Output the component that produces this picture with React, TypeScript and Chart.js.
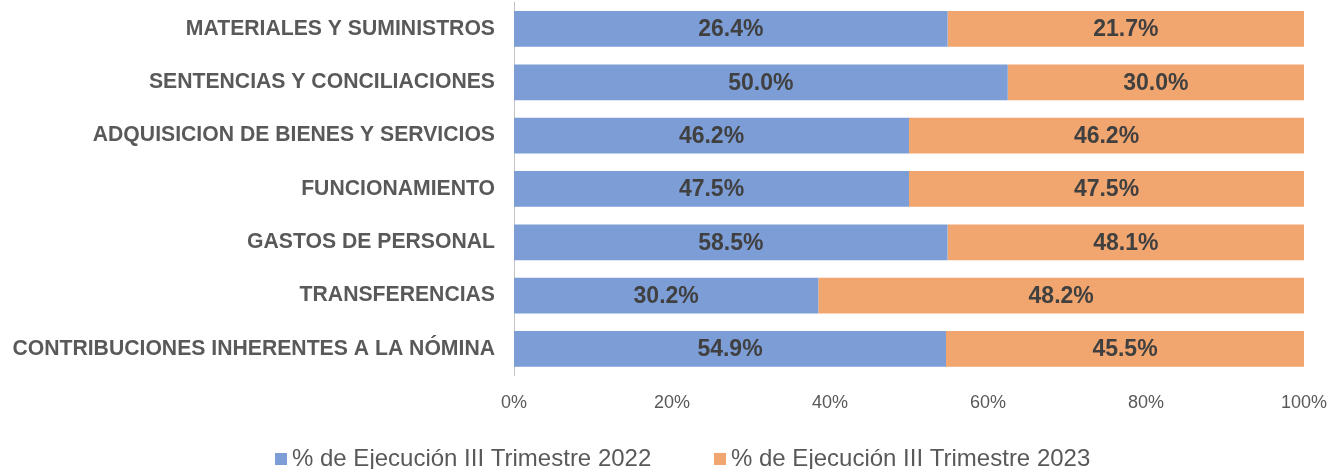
import React, { useEffect, useRef } from 'react';
import { Chart, registerables } from 'chart.js';

Chart.register(...registerables);

const categories = [
  'MATERIALES Y SUMINISTROS',
  'SENTENCIAS Y CONCILIACIONES',
  'ADQUISICION DE BIENES Y SERVICIOS',
  'FUNCIONAMIENTO',
  'GASTOS DE PERSONAL',
  'TRANSFERENCIAS',
  'CONTRIBUCIONES INHERENTES A LA NÓMINA',
];
const series2022 = [26.4, 50.0, 46.2, 47.5, 58.5, 30.2, 54.9];
const series2023 = [21.7, 30.0, 46.2, 47.5, 48.1, 48.2, 45.5];
const seriesNames = ['% de Ejecución III Trimestre 2022', '% de Ejecución III Trimestre 2023'];
const xTickLabels = ['0%', '20%', '40%', '60%', '80%', '100%'];
const seriesColors = ['#7C9DD6', '#F1A56F'];

const FONT = '"Liberation Sans", Arial, sans-serif';

export default function App() {
  const ref = useRef<HTMLCanvasElement>(null);

  useEffect(() => {
    if (!ref.current) return;
    const raw = [series2022, series2023];
    const totals = series2022.map((v, i) => v + series2023[i]);
    const share = (arr: number[]) => arr.map((v, i) => (v / totals[i]) * 100);

    const valueLabels = {
      id: 'valueLabels',
      afterDatasetsDraw(chart: any) {
        const ctx = chart.ctx;
        ctx.save();
        ctx.font = `bold 23px ${FONT}`;
        ctx.fillStyle = '#404040';
        ctx.textAlign = 'center';
        ctx.textBaseline = 'middle';
        chart.data.datasets.forEach((_ds: any, di: number) => {
          const meta = chart.getDatasetMeta(di);
          meta.data.forEach((el: any, i: number) => {
            const { x, base, y } = el.getProps(['x', 'base', 'y'], true);
            ctx.fillText(raw[di][i].toFixed(1) + '%', (x + base) / 2, y + 1);
          });
        });
        ctx.restore();
      },
    };

    const customLegend = {
      id: 'customLegend',
      afterDraw(chart: any) {
        const ctx = chart.ctx;
        ctx.save();
        ctx.font = `24px ${FONT}`;
        ctx.textAlign = 'left';
        ctx.textBaseline = 'middle';
        const items = [
          { bx: 275, tx: 292 },
          { bx: 714, tx: 731 },
        ];
        items.forEach((it, i) => {
          ctx.fillStyle = seriesColors[i];
          ctx.fillRect(it.bx, 453, 12, 12);
          ctx.fillStyle = '#595959';
          ctx.fillText(seriesNames[i], it.tx, 459);
        });
        ctx.restore();
      },
    };

    const chart = new Chart(ref.current, {
      type: 'bar',
      data: {
        labels: categories,
        datasets: [
          {
            label: seriesNames[0],
            data: share(series2022),
            backgroundColor: seriesColors[0],
            barPercentage: 0.67,
            categoryPercentage: 1,
          },
          {
            label: seriesNames[1],
            data: share(series2023),
            backgroundColor: seriesColors[1],
            barPercentage: 0.67,
            categoryPercentage: 1,
          },
        ],
      },
      options: {
        indexAxis: 'y',
        animation: false,
        responsive: true,
        maintainAspectRatio: false,
        layout: { padding: { top: 2.3, right: 36, left: 0, bottom: 0 } },
        plugins: {
          legend: { display: false },
          tooltip: { enabled: false },
        },
        scales: {
          x: {
            type: 'linear',
            stacked: true,
            min: 0,
            max: 100,
            grid: { display: false, drawTicks: false },
            border: { display: false },
            ticks: {
              stepSize: 20,
              padding: 17,
              color: '#595959',
              font: { family: FONT, size: 18 },
              callback: (_v: any, idx: number) => xTickLabels[idx],
            },
            afterFit: (s: any) => {
              s.height = 93.4;
              s.paddingLeft = 0;
              s.paddingRight = 0;
            },
          },
          y: {
            type: 'category',
            stacked: true,
            grid: { display: false, drawTicks: false },
            border: { display: true, color: '#C4C4C4', width: 1 },
            ticks: {
              padding: 19,
              color: '#595959',
              font: { family: FONT, size: 21.2, weight: 'bold' },
            },
            afterFit: (s: any) => {
              s.width = 514;
              s.paddingTop = 0;
              s.paddingBottom = 0;
            },
          },
        },
      },
      plugins: [valueLabels, customLegend],
    });

    return () => chart.destroy();
  }, []);

  return (
    <div style={{ position: 'absolute', left: 0, top: 0, width: 1340, height: 469 }}>
      <canvas ref={ref} />
    </div>
  );
}
